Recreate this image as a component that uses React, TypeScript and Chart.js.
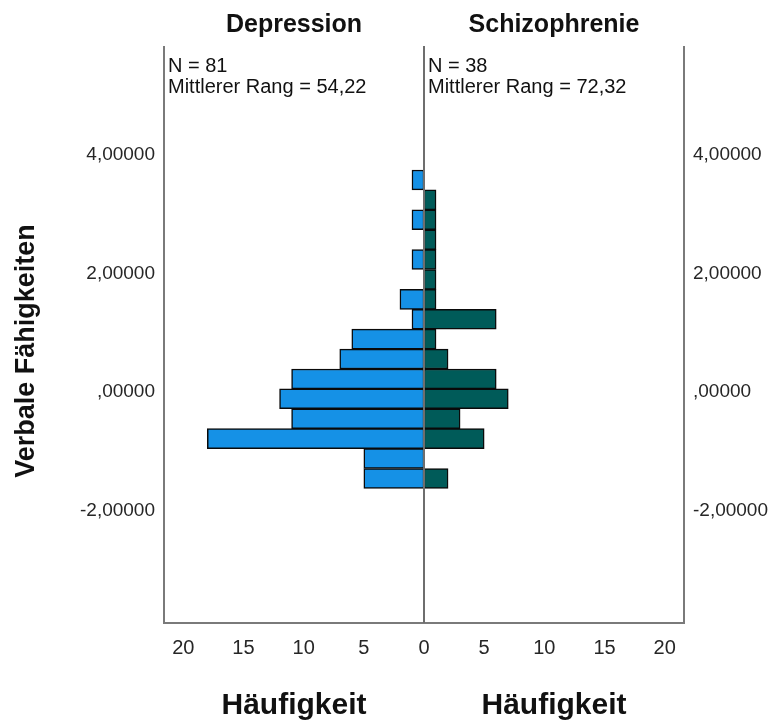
import React, { useEffect, useRef } from "react";
import { Chart, registerables } from "chart.js";

Chart.register(...registerables);

// bin centres (Verbale Fähigkeiten), top to bottom
const binCenters = [3.582, 3.246, 2.91, 2.574, 2.238, 1.902, 1.566, 1.23, 0.894, 0.558, 0.222, -0.114, -0.45, -0.786, -1.122, -1.458];
const depressionCounts = [1, 0, 1, 0, 1, 0, 2, 1, 6, 7, 11, 12, 11, 18, 5, 5];
const schizoCounts = [0, 1, 1, 1, 1, 1, 1, 6, 1, 2, 6, 7, 3, 5, 0, 2];
const groupNames = ["Depression", "Schizophrenie"];
const groupN = [81, 38];
const groupRank = ["54,22", "72,32"];
const yTickValues = [-2, 0, 2, 4];
const xTickValues = [-20, -15, -10, -5, 0, 5, 10, 15, 20];
const yTitle = "Verbale Fähigkeiten";
const xTitle = "Häufigkeit";

const FONT = "'Liberation Sans', Arial, sans-serif";

function fmtY(v: number) {
  if (v === 0) return ",00000";
  return v.toFixed(5).replace(".", ",");
}

const overlay = {
  id: "overlay",
  afterDatasetsDraw(chart: any) {
    const { ctx, chartArea } = chart;
    const xs = chart.scales.x;
    const cx = xs.getPixelForValue(0);
    const { left, right, top, bottom } = chartArea;
    ctx.save();
    // frame
    ctx.strokeStyle = "#7a7a7a";
    ctx.lineWidth = 2;
    ctx.beginPath();
    ctx.moveTo(left, top);
    ctx.lineTo(left, bottom);
    ctx.lineTo(right, bottom);
    ctx.lineTo(right, top);
    ctx.stroke();
    // centre line
    ctx.strokeStyle = "#6e6e6e";
    ctx.beginPath();
    ctx.moveTo(cx, top);
    ctx.lineTo(cx, bottom);
    ctx.stroke();

    const halves = [(left + cx) / 2, (cx + right) / 2];
    const starts = [left + 4, cx + 4];
    ctx.fillStyle = "#111";
    ctx.textAlign = "center";
    ctx.textBaseline = "alphabetic";
    ctx.font = `bold 25px ${FONT}`;
    groupNames.forEach((g, i) => ctx.fillText(g, halves[i], 32));

    ctx.font = `20px ${FONT}`;
    ctx.textAlign = "left";
    groupNames.forEach((_, i) => {
      ctx.fillText(`N = ${groupN[i]}`, starts[i], 72);
      ctx.fillText(`Mittlerer Rang = ${groupRank[i]}`, starts[i], 93);
    });

    ctx.font = `bold 30px ${FONT}`;
    ctx.textAlign = "center";
    halves.forEach((h) => ctx.fillText(xTitle, h, 714));

    ctx.translate(27, 351);
    ctx.rotate(-Math.PI / 2);
    ctx.font = `bold 27px ${FONT}`;
    ctx.textBaseline = "middle";
    ctx.fillText(yTitle, 0, 0);
    ctx.restore();
  },
};

export default function App() {
  const ref = useRef<HTMLCanvasElement | null>(null);
  useEffect(() => {
    if (!ref.current) return;
    const tickFont = { family: FONT, size: 20 };
    const yScaleBase = (pos: "left" | "right", width: number) => ({
      type: "linear" as const,
      position: pos,
      min: -3.9,
      max: 5.845,
      offset: false,
      afterBuildTicks: (s: any) => {
        s.ticks = yTickValues.map((v) => ({ value: v }));
      },
      afterFit: (s: any) => {
        s.width = width;
      },
      grid: { display: false, drawTicks: false },
      border: { display: false },
      ticks: {
        font: { family: FONT, size: 19 },
        color: "#262626",
        padding: 9,
        callback: (v: any) => fmtY(Number(v)),
      },
    });
    const chart = new Chart(ref.current, {
      type: "bar",
      data: {
        datasets: [
          {
            label: groupNames[0],
            data: binCenters.map((c, i) => ({ y: c, x: depressionCounts[i] ? -depressionCounts[i] : null })) as any,
            backgroundColor: "#1591e6",
            borderColor: "#0a0a0a",
            borderWidth: 1.5,
            borderSkipped: false,
            grouped: false,
            barPercentage: 1,
            categoryPercentage: 1,
          },
          {
            label: groupNames[1],
            data: binCenters.map((c, i) => ({ y: c, x: schizoCounts[i] ? schizoCounts[i] : null })) as any,
            backgroundColor: "#005b59",
            borderColor: "#0a0a0a",
            borderWidth: 1.5,
            borderSkipped: false,
            grouped: false,
            barPercentage: 1,
            categoryPercentage: 1,
          },
        ],
      },
      options: {
        indexAxis: "y",
        animation: false,
        responsive: false,
        layout: { padding: { top: 46, left: 0, right: 0, bottom: 0 } },
        plugins: { legend: { display: false }, tooltip: { enabled: false } },
        scales: {
          x: {
            type: "linear",
            position: "bottom",
            min: -21.6,
            max: 21.6,
            offset: false,
            afterBuildTicks: (s: any) => {
              s.ticks = xTickValues.map((v) => ({ value: v }));
            },
            afterFit: (s: any) => {
              s.height = 99;
            },
            grid: { display: false, drawTicks: false },
            border: { display: false },
            ticks: {
              font: tickFont,
              color: "#262626",
              padding: 13,
              maxRotation: 0,
              autoSkip: false,
              callback: (v: any) => String(Math.abs(Number(v))),
            },
          },
          y: yScaleBase("left", 164),
          y2: yScaleBase("right", 95),
        },
      } as any,
      plugins: [overlay],
    });
    return () => chart.destroy();
  }, []);
  return (
    <div style={{ position: "fixed", left: 0, top: 0, width: 779, height: 722, background: "#fff" }}>
      <canvas ref={ref} width={779} height={722} style={{ width: 779, height: 722 }} />
    </div>
  );
}
